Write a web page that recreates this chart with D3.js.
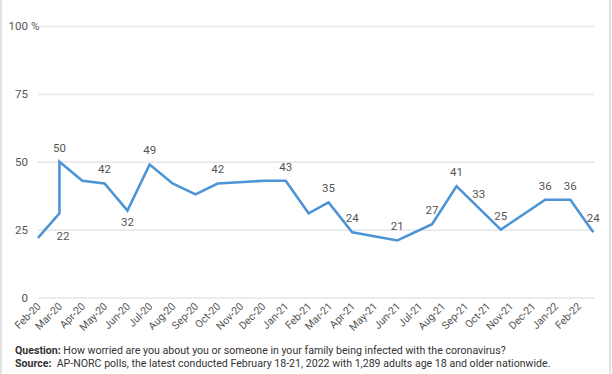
<!DOCTYPE html>
<html>
<head>
<meta charset="utf-8">
<title>Worry about coronavirus infection</title>
<script src="https://d3js.org/d3.v7.min.js"></script>
<style>
  body { margin: 0; background: #fff; }
  svg { display: block; font-family: Roboto, "Noto Sans", sans-serif; }
</style>
</head>
<body>
<div id="chart"></div>
<script>
// poll dates and share (%) extremely/very worried
var dates = ["2020-02-01", "2020-03-01", "2020-03-01", "2020-04-01", "2020-05-01", "2020-06-01",
             "2020-07-01", "2020-08-01", "2020-09-01", "2020-10-01", "2020-12-03", "2021-01-01",
             "2021-02-01", "2021-02-28", "2021-04-01", "2021-06-01", "2021-07-18", "2021-08-20",
             "2021-09-19", "2021-10-19", "2021-12-18", "2022-01-21", "2022-02-21"];
var values = [22, 31, 50, 43, 42, 32, 49, 42, 38, 42, 43, 43, 31, 35, 24, 21, 27, 41, 33, 25, 36, 36, 24];
// which points carry a value label, and on which side
var labelSide = ["right", "", "above", "", "above", "below", "above", "", "", "above", "", "above",
                 "", "above", "above", "above", "above", "above", "above", "above", "above", "above", "above"];
var yTicks = [0, 25, 50, 75, 100];

var width = 612;
var height = 374;
var margin = {top: 26, right: 18, bottom: 77, left: 38};

var parse = d3.timeParse("%Y-%m-%d");
var data = dates.map(function(d, i) {
  return {date: parse(d), value: values[i], side: labelSide[i]};
});

var svg = d3.select("#chart")
    .append("svg")
    .attr("width", width)
    .attr("height", height);

// frame lines at the page edges
svg.append("line").attr("x1", 1).attr("x2", 1).attr("y1", 0).attr("y2", height)
   .attr("stroke", "#e3e3e3").attr("stroke-width", 2);
svg.append("line").attr("x1", 610).attr("x2", 610).attr("y1", 0).attr("y2", height)
   .attr("stroke", "#e3e3e3").attr("stroke-width", 2);

var x = d3.scaleTime()
    .domain([parse("2020-02-01"), parse("2022-02-22")])
    .range([margin.left, width - margin.right]);

var y = d3.scaleLinear()
    .domain([0, 100])
    .range([height - margin.bottom + 0.5, margin.top]);

// grid + y labels
var yAxis = svg.append("g")
    .attr("transform", "translate(" + margin.left + ",0)")
    .call(d3.axisLeft(y).tickValues(yTicks).tickSize(-(width - margin.left - margin.right)).tickPadding(10));
yAxis.select(".domain").remove();
yAxis.selectAll(".tick line").attr("stroke", "#e6e6e6").attr("stroke-width", 1.5);
yAxis.selectAll(".tick text")
    .attr("fill", "#555")
    .attr("font-size", "11.5px")
    .attr("font-family", "Roboto, sans-serif");
yAxis.selectAll(".tick").filter(function(d) { return d === 100; })
    .append("text")
    .attr("x", -7)
    .attr("dy", "0.32em")
    .attr("text-anchor", "start")
    .attr("fill", "#555")
    .attr("font-size", "11.5px")
    .attr("font-family", "Roboto, sans-serif")
    .text("%");

// x axis, monthly
var xAxis = svg.append("g")
    .attr("transform", "translate(0," + (height - margin.bottom) + ")")
    .call(d3.axisBottom(x).ticks(d3.timeMonth.every(1)).tickFormat(d3.timeFormat("%b-%y")).tickSize(0));
xAxis.select(".domain").remove();
xAxis.selectAll(".tick text")
    .attr("fill", "#555")
    .attr("font-size", "10.5px")
    .attr("font-family", "Roboto, sans-serif")
    .attr("text-anchor", "end")
    .attr("dy", null)
    .attr("y", 0)
    .attr("transform", "translate(3,10) rotate(-45)");

var line = d3.line()
    .x(function(d) { return x(d.date); })
    .y(function(d) { return y(d.value); });

svg.append("path")
    .datum(data)
    .attr("fill", "none")
    .attr("stroke", "#4d94d6")
    .attr("stroke-width", 2.6)
    .attr("stroke-linejoin", "miter")
    .attr("d", line);

svg.append("g")
    .selectAll("text")
    .data(data.filter(function(d) { return d.side !== ""; }))
    .enter()
    .append("text")
    .attr("x", function(d) { return x(d.date) + (d.side === "right" ? 25 : 0); })
    .attr("y", function(d) {
      var py = y(d.value);
      if (d.side === "above") return py - 10;
      if (d.side === "below") return py + 15;
      return py + 2;
    })
    .attr("text-anchor", "middle")
    .attr("fill", "#555")
    .attr("font-size", "11.5px")
    .text(function(d) { return d.value; });

// notes
var notes = svg.append("g")
    .attr("font-size", "10.6px")
    .attr("fill", "#333");
var q = notes.append("text").attr("x", 15).attr("y", 354);
q.append("tspan").attr("font-weight", "bold").text("Question:");
q.append("tspan").text(" How worried are you about you or someone in your family being infected with the coronavirus?");
var s = notes.append("text").attr("x", 15).attr("y", 367);
s.append("tspan").attr("font-weight", "bold").text("Source:");
s.append("tspan").text("\u00a0 AP-NORC polls, the latest conducted February 18-21, 2022 with 1,289 adults age 18 and older nationwide.");
</script>
</body>
</html>
